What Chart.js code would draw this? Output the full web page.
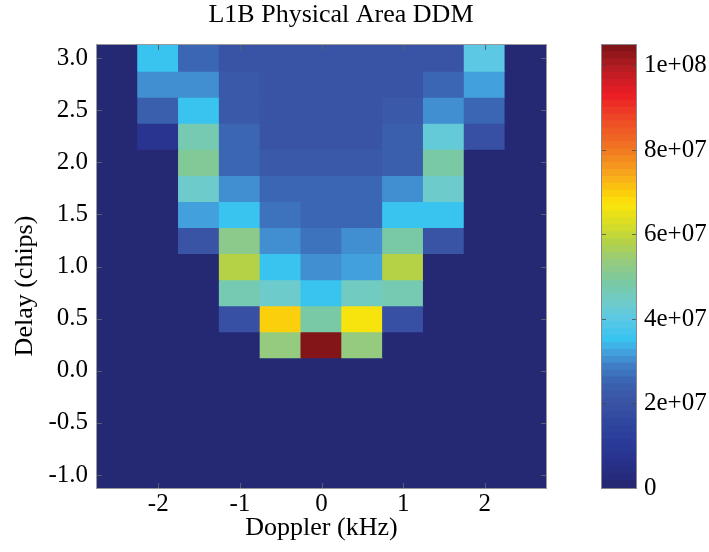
<!DOCTYPE html>
<html>
<head>
<meta charset="utf-8">
<title>L1B Physical Area DDM</title>
<script src="https://cdn.jsdelivr.net/npm/chart.js@4.4.1/dist/chart.umd.min.js"></script>
<style>
  html, body { margin: 0; padding: 0; background: #ffffff; }
  #wrap { position: relative; width: 709px; height: 552px; overflow: hidden; }
  #ddmChart { position: absolute; left: 0; top: 0; }
  #barChart { position: absolute; left: 590px; top: 0; }
</style>
</head>
<body>
<div id="wrap">
  <canvas id="ddmChart" width="682" height="552"></canvas>
  <canvas id="barChart" width="119" height="552"></canvas>
</div>
<script>
// Doppler bin centres (kHz) and delay bin centres (chips), top row first
const dopplerKHz = [-2.5, -2.0, -1.5, -1.0, -0.5, 0.0, 0.5, 1.0, 1.5, 2.0, 2.5];
const delayChips = [3.0, 2.75, 2.5, 2.25, 2.0, 1.75, 1.5, 1.25, 1.0, 0.75, 0.5, 0.25,
                    0.0, -0.25, -0.5, -0.75, -1.0];

// DDM power per cell, in units of 1e7, one row per delay bin
const ddmPower = [
  [0, 3.5,  2.6,  2.05, 2.0,  2.0,   2.0,  2.05, 2.1,  3.95, 0],
  [0, 3.1,  2.95, 2.25, 2.05, 2.05,  2.05, 2.05, 2.6,  3.27, 0],
  [0, 2.3,  3.45, 2.15, 2.0,  2.0,   2.05, 2.15, 3.1,  2.6,  0],
  [0, 0.8,  4.6,  2.5,  2.05, 2.05,  2.05, 2.35, 4.15, 1.85, 0],
  [0, 0,    5.0,  2.6,  2.2,  2.2,   2.2,  2.45, 4.9,  0,    0],
  [0, 0,    4.4,  2.95, 2.55, 2.5,   2.5,  2.95, 4.4,  0,    0],
  [0, 0,    3.27, 3.5,  2.65, 2.5,   2.5,  3.45, 3.45, 0,    0],
  [0, 0,    2.05, 5.19, 2.98, 2.7,   2.98, 4.9,  2.05, 0,    0],
  [0, 0,    0,    5.8,  3.45, 2.98,  3.27, 5.8,  0,    0,    0],
  [0, 0,    0,    4.6,  4.4,  3.5,   4.45, 4.65, 0,    0,    0],
  [0, 0,    0,    1.88, 6.9,  4.9,   6.7,  1.88, 0,    0,    0],
  [0, 0,    0,    0,    5.3,  10.485, 5.3, 0,    0,    0,    0],
  [0, 0,    0,    0,    0,    0,     0,    0,    0,    0,    0],
  [0, 0,    0,    0,    0,    0,     0,    0,    0,    0,    0],
  [0, 0,    0,    0,    0,    0,     0,    0,    0,    0,    0],
  [0, 0,    0,    0,    0,    0,     0,    0,    0,    0,    0],
  [0, 0,    0,    0,    0,    0,     0,    0,    0,    0,    0]
];
const POWER_UNIT = 1e7;

// axis tick values
const dopplerTicks = [-2, -1, 0, 1, 2];
const delayTicks = [-1.0, -0.5, 0.0, 0.5, 1.0, 1.5, 2.0, 2.5, 3.0];
const colorbarTicks = [0, 2e7, 4e7, 6e7, 8e7, 1e8];

const SERIF = '"Liberation Serif", "Times New Roman", Times, serif';
const CB_LEVELS = 64;

// jet-like colormap, position 0..1 -> colour
const cmapStops = [
  [0.000, '#252871'], [0.076, '#283593'], [0.143, '#2e469e'], [0.191, '#3a53a4'],
  [0.238, '#3a63b0'], [0.277, '#4080c8'], [0.305, '#42a0dc'], [0.334, '#38c4f0'],
  [0.381, '#5cc8e4'], [0.420, '#70ccc8'], [0.467, '#7cc8a0'], [0.515, '#98cc78'],
  [0.553, '#b4d248'], [0.591, '#d4dc28'], [0.639, '#fce40a'], [0.668, '#fccc0c'],
  [0.706, '#f8a81c'], [0.763, '#f07822'], [0.830, '#ee4a26'], [0.887, '#ec1c24'],
  [0.944, '#b81c22'], [1.000, '#7a1416']
];

function hexToRgb(h) {
  const n = parseInt(h.slice(1), 16);
  return [(n >> 16) & 255, (n >> 8) & 255, n & 255];
}

function cmap(t) {
  t = Math.max(0, Math.min(1, t));
  for (let i = 1; i < cmapStops.length; i++) {
    const [t1, c1] = cmapStops[i];
    if (t <= t1) {
      const [t0, c0] = cmapStops[i - 1];
      const f = (t - t0) / (t1 - t0);
      const a = hexToRgb(c0), b = hexToRgb(c1);
      const rgb = a.map((v, k) => Math.round(v + (b[k] - v) * f));
      return 'rgb(' + rgb.join(',') + ')';
    }
  }
  return cmapStops[cmapStops.length - 1][1];
}

const allValues = ddmPower.flat().map(v => v * POWER_UNIT);
const cMin = Math.min(...allValues);
const cMax = Math.max(...allValues);

// quantised colour, like an indexed 64-entry colormap
function levelColor(v) {
  const level = Math.min(CB_LEVELS - 1, Math.floor((v - cMin) / (cMax - cMin) * CB_LEVELS));
  return cmap((level + 0.5) / CB_LEVELS);
}

const xStep = dopplerKHz[1] - dopplerKHz[0];
const yStep = delayChips[0] - delayChips[1];

// each delay row is a dataset of floating bars, one per Doppler bin
const ddmDatasets = delayChips.map((delay, r) => ({
  data: dopplerKHz.map(f => ({ x: f, y: [delay - yStep / 2, delay + yStep / 2] })),
  backgroundColor: ddmPower[r].map(v => levelColor(v * POWER_UNIT)),
  borderWidth: 0,
  inflateAmount: 0.6,
  grouped: false,
  barPercentage: 1,
  categoryPercentage: 1
}));

// short tick marks drawn inside the frame, plus the frame itself
const insideTicks = {
  id: 'insideTicks',
  afterDatasetsDraw(chart) {
    const { ctx, chartArea: a } = chart;
    const x = chart.scales.x, y = chart.scales.y;
    const len = 5;
    ctx.save();
    ctx.lineWidth = 1;
    ctx.strokeStyle = '#5a5d74';
    ctx.beginPath();
    dopplerTicks.forEach(v => {
      const px = Math.round(x.getPixelForValue(v)) + 0.5;
      ctx.moveTo(px, a.bottom); ctx.lineTo(px, a.bottom - len);
      ctx.moveTo(px, a.top); ctx.lineTo(px, a.top + len);
    });
    delayTicks.forEach(v => {
      const py = Math.round(y.getPixelForValue(v)) + 0.5;
      ctx.moveTo(a.left, py); ctx.lineTo(a.left + len, py);
      ctx.moveTo(a.right, py); ctx.lineTo(a.right - len, py);
    });
    ctx.stroke();
    ctx.strokeStyle = '#9a9a9a';
    ctx.strokeRect(Math.round(a.left) - 0.5, Math.round(a.top) - 0.5,
                   Math.round(a.right - a.left) + 1, Math.round(a.bottom - a.top) + 1);
    ctx.restore();
  }
};

const tickFont = { family: SERIF, size: 25, weight: 'normal' };
const titleFont = { family: SERIF, size: 26, weight: 'normal', lineHeight: 1.2 };

new Chart(document.getElementById('ddmChart').getContext('2d'), {
  type: 'bar',
  data: { datasets: ddmDatasets },
  options: {
    responsive: false,
    animation: false,
    events: [],
    layout: { padding: 0 },
    plugins: {
      legend: { display: false },
      tooltip: { enabled: false },
      title: {
        display: true,
        text: 'L1B Physical Area DDM',
        color: '#000000',
        font: titleFont,
        padding: { top: 0, bottom: 13.8 }
      }
    },
    scales: {
      x: {
        type: 'linear',
        offset: false,
        min: dopplerKHz[0] - xStep / 2,
        max: dopplerKHz[dopplerKHz.length - 1] + xStep / 2,
        grid: { display: false, drawTicks: false, offset: false },
        border: { display: false },
        afterBuildTicks: s => { s.ticks = dopplerTicks.map(v => ({ value: v })); },
        ticks: { color: '#000000', font: tickFont, padding: 1, callback: v => String(v) },
        title: { display: true, text: 'Doppler (kHz)', color: '#000000', font: titleFont,
                 padding: { top: 0, bottom: 8 } },
        afterFit: s => { s.height = 64; }
      },
      y: {
        type: 'linear',
        min: delayChips[delayChips.length - 1] - yStep / 2,
        max: delayChips[0] + yStep / 2,
        grid: { display: false, drawTicks: false },
        border: { display: false },
        afterBuildTicks: s => { s.ticks = delayTicks.map(v => ({ value: v })); },
        ticks: { color: '#000000', font: tickFont, padding: 9, callback: v => v.toFixed(1) },
        // trailing spaces nudge the rotated label a little below the axis centre
        title: { display: true, text: 'Delay (chips)      ', color: '#000000', font: titleFont,
                 padding: { top: 10, bottom: 0 } },
        afterFit: s => { s.width = 97; }
      },
      // empty right-hand axis that keeps room for the colour bar
      yPad: {
        type: 'linear',
        position: 'right',
        display: true,
        grid: { display: false, drawTicks: false },
        border: { display: false },
        ticks: { display: false },
        afterFit: s => { s.width = 136; }
      }
    }
  },
  plugins: [insideTicks]
});

// colour bar: 64 stacked bands over the data range
const bandDatasets = [];
for (let i = 0; i < CB_LEVELS; i++) {
  const lo = cMin + (cMax - cMin) * i / CB_LEVELS;
  const hi = cMin + (cMax - cMin) * (i + 1) / CB_LEVELS;
  bandDatasets.push({
    data: [[lo, hi]],
    backgroundColor: cmap((i + 0.5) / CB_LEVELS),
    borderWidth: 0,
    inflateAmount: 0.6,
    grouped: false,
    barPercentage: 1,
    categoryPercentage: 1
  });
}

const barTicks = {
  id: 'barTicks',
  afterDatasetsDraw(chart) {
    const { ctx, chartArea: a } = chart;
    const y = chart.scales.y;
    ctx.save();
    ctx.lineWidth = 1;
    ctx.strokeStyle = 'rgba(70,70,70,0.75)';
    ctx.beginPath();
    colorbarTicks.forEach(v => {
      if (v <= cMin) return;
      const py = Math.round(y.getPixelForValue(v)) + 0.5;
      ctx.moveTo(a.left, py); ctx.lineTo(a.left + 4, py);
      ctx.moveTo(a.right, py); ctx.lineTo(a.right - 4, py);
    });
    ctx.stroke();
    ctx.strokeStyle = '#8a8a8a';
    ctx.strokeRect(Math.round(a.left) - 0.5, Math.round(a.top) - 0.5,
                   Math.round(a.right - a.left) + 1, Math.round(a.bottom - a.top) + 1);
    ctx.restore();
  }
};

function expLabel(v) {
  if (v === 0) return '0';
  return v.toExponential(0).replace(/e([+-])(\d)$/, 'e$10$2');
}

new Chart(document.getElementById('barChart').getContext('2d'), {
  type: 'bar',
  data: { labels: [''], datasets: bandDatasets },
  options: {
    responsive: false,
    animation: false,
    events: [],
    layout: { padding: { left: 12, top: 45, bottom: 64, right: 0 } },
    plugins: { legend: { display: false }, tooltip: { enabled: false } },
    scales: {
      x: { display: false },
      y: {
        position: 'right',
        min: cMin,
        max: cMax,
        grid: { display: false, drawTicks: false },
        border: { display: false },
        afterBuildTicks: s => { s.ticks = colorbarTicks.map(v => ({ value: v })); },
        ticks: { color: '#000000', font: tickFont, padding: 8, callback: v => expLabel(v) },
        afterFit: s => { s.width = 73; }
      }
    }
  },
  plugins: [barTicks]
});
</script>
</body>
</html>
